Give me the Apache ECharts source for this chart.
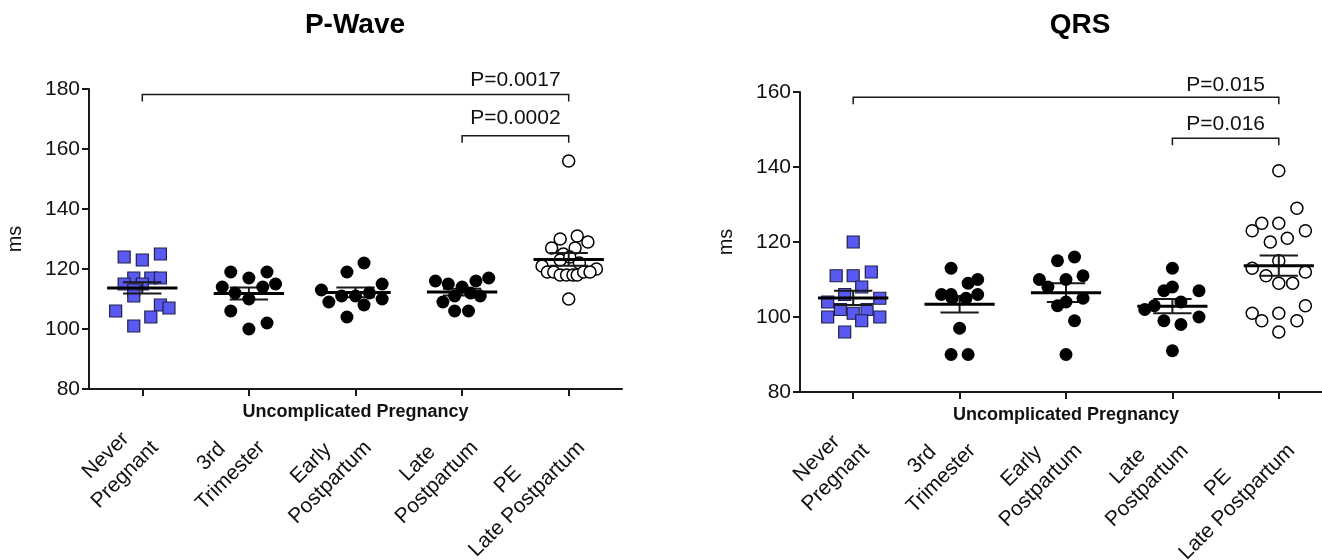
<!DOCTYPE html>
<html>
<head>
<meta charset="utf-8">
<script src="https://cdn.jsdelivr.net/npm/echarts@6/dist/echarts.min.js"></script>
<style>
html, body { margin: 0; padding: 0; background: #fff; }
#chart { width: 1322px; height: 560px; }
</style>
</head>
<body>
<div id="chart"></div>
<script>
// categories
var groupNames = ['Never\nPregnant', '3rd\nTrimester', 'Early\nPostpartum', 'Late\nPostpartum', 'PE\nLate Postpartum'];

// P-Wave values (ms) and horizontal jitter (category units)
var pwNever = [124, 123, 125, 117, 117, 117, 115, 115, 113, 111, 108, 107, 106, 104, 101];
var pwNeverJit = [-0.17, 0, 0.17, -0.08, 0.08, 0.17, -0.17, 0, -0.08, -0.08, 0.17, 0.25, -0.25, 0.08, -0.08];
var pw3rd = [119, 119, 117, 114, 114, 115, 112, 110, 106, 102, 100];
var pw3rdJit = [-0.17, 0.17, 0, -0.25, 0.13, 0.25, -0.13, 0, -0.17, 0.17, 0];
var pwEarly = [122, 119, 113, 115, 109, 111, 111, 112, 110, 108, 104];
var pwEarlyJit = [0.08, -0.08, -0.32, 0.25, -0.25, -0.13, 0, 0.13, 0.25, 0.08, -0.08];
var pwLate = [116, 115, 114, 116, 117, 111, 112, 111, 109, 106, 106];
var pwLateJit = [-0.25, -0.13, 0, 0.13, 0.25, -0.07, 0.08, 0.17, -0.18, -0.07, 0.06];
var pwPE = [156, 131, 130, 129, 127, 125, 127, 123, 124, 122, 121, 120, 119, 119, 118, 118, 118, 118, 119, 119, 110];
var pwPEJit = [0, 0.08, -0.08, 0.18, -0.16, -0.05, 0.06, -0.08, 0.01, 0.1, -0.25, 0.26, -0.2, -0.14, -0.08, -0.02, 0.04, 0.08, 0.14, 0.2, 0];
var pwMean = [113.7, 111.8, 112.2, 112.3, 123.2];
var pwSem = [1.9, 2.0, 1.6, 1.1, 2.1];

// QRS values (ms)
var qrsNever = [120, 111, 111, 112, 108, 106, 104, 105, 102, 101, 102, 100, 100, 99, 96];
var qrsNeverJit = [0, -0.16, 0, 0.17, 0.08, -0.08, -0.24, 0.25, -0.12, 0, 0.13, -0.24, 0.25, 0.08, -0.08];
var qrs3rd = [113, 110, 109, 106, 106, 105, 105, 106, 97, 90, 90];
var qrs3rdJit = [-0.08, 0.17, 0.08, -0.17, -0.08, -0.07, 0.06, 0.17, 0, -0.08, 0.08];
var qrsEarly = [115, 116, 110, 108, 110, 111, 104, 103, 105, 99, 90];
var qrsEarlyJit = [-0.08, 0.08, -0.25, -0.17, 0, 0.16, 0, -0.08, 0.16, 0.08, 0];
var qrsLate = [113, 108, 107, 107, 102, 103, 104, 99, 98, 100, 91];
var qrsLateJit = [0, 0, -0.08, 0.25, -0.26, -0.17, 0.08, -0.08, 0.08, 0.25, 0];
var qrsPE = [139, 129, 125, 125, 123, 123, 120, 121, 113, 115, 112, 111, 109, 109, 103, 101, 99, 101, 99, 96];
var qrsPEJit = [0, 0.17, -0.16, 0, -0.25, 0.25, -0.08, 0.08, -0.25, 0, 0.25, -0.12, 0, 0.13, 0.25, -0.25, -0.16, 0, 0.17, 0];
var qrsMean = [105.1, 103.4, 106.5, 102.9, 113.7];
var qrsSem = [1.9, 2.2, 2.5, 1.9, 2.7];

// significance brackets
var pwBrFrom = [0, 3], pwBrTo = [4, 4], pwBrLevel = [178.2, 164.4];
var pwPText = ['P=0.0017', 'P=0.0002'], pwPLevel = [182.8, 170.3];
var qrsBrFrom = [0, 3], qrsBrTo = [4, 4], qrsBrLevel = [158.6, 147.7];
var qrsPText = ['P=0.015', 'P=0.016'], qrsPLevel = [161.9, 151.3];

var FONT = '"Liberation Sans", Arial, Helvetica, sans-serif';
var INK = '#1a1a1a';
var LABEL_SHIFT = 0.03;   // rotated labels sit a little right of their ticks

var chart = echarts.init(document.getElementById('chart'));

function pts(vals, jit, idx) {
    return vals.map(function (v, i) { return [idx + jit[i], v]; });
}

function statData(mean, sem, groups) {
    return groups.map(function (g) { return [g, mean[g], sem[g]]; });
}

// mean line and/or SEM whisker
function statRender(mode) {
    return function (params, api) {
        var x = api.value(0), m = api.value(1), s = api.value(2);
        var w = api.size([1, 0])[0];
        var c = api.coord([x, m]);
        var hi = api.coord([x, m + s]);
        var lo = api.coord([x, m - s]);
        var cap = w * 0.18, half = w * 0.33;
        var kids = [];
        if (mode !== 'mean') {
            kids.push(
                { type: 'line', shape: { x1: c[0], y1: hi[1], x2: c[0], y2: lo[1] }, style: { stroke: INK, lineWidth: 2 } },
                { type: 'line', shape: { x1: c[0] - cap, y1: hi[1], x2: c[0] + cap, y2: hi[1] }, style: { stroke: INK, lineWidth: 2 } },
                { type: 'line', shape: { x1: c[0] - cap, y1: lo[1], x2: c[0] + cap, y2: lo[1] }, style: { stroke: INK, lineWidth: 2 } }
            );
        }
        if (mode !== 'sem') {
            kids.push({ type: 'line', shape: { x1: c[0] - half, y1: c[1], x2: c[0] + half, y2: c[1] }, style: { stroke: '#000', lineWidth: 3 } });
        }
        return { type: 'group', children: kids };
    };
}

function bracketRender(texts, levels) {
    return function (params, api) {
        var a = api.coord([api.value(0), api.value(2)]);
        var b = api.coord([api.value(1), api.value(2)]);
        var t = api.coord([api.value(3), levels[params.dataIndex]]);
        return {
            type: 'group',
            children: [
                { type: 'polyline', shape: { points: [[a[0], a[1] + 7], [a[0], a[1]], [b[0], b[1]], [b[0], b[1] + 7]] },
                  style: { stroke: INK, lineWidth: 1.5, fill: null } },
                { type: 'text', x: t[0], y: t[1],
                  style: { text: texts[params.dataIndex], fill: '#111', font: '21px ' + FONT, textAlign: 'center', textVerticalAlign: 'middle' } }
            ]
        };
    };
}

function bracketData(from, to, level) {
    return from.map(function (f, i) { return [f, to[i], level[i], 3.5]; });
}

function labelFmt(v) {
    var name = groupNames[Math.round(v)] || '';
    return name.split('\n').map(function (l) { return '{c|' + l + '}'; }).join('\n');
}

function catAxis(gi) {
    return {
        gridIndex: gi, type: 'category', data: groupNames, boundaryGap: true,
        axisLine: { show: true, onZero: false, lineStyle: { color: INK, width: 2 } },
        axisTick: { show: true, alignWithLabel: true, interval: 0, length: 7, lineStyle: { color: INK, width: 2 } },
        axisLabel: { show: false, interval: 0 },
        name: 'Uncomplicated Pregnancy', nameLocation: 'middle', nameGap: 14, nameMoveOverlap: false,
        nameTextStyle: { fontFamily: FONT, fontWeight: 'bold', fontSize: 18, color: '#111' },
        splitLine: { show: false }
    };
}

function valAxisX(gi) {
    return { gridIndex: gi, type: 'value', min: -0.5, max: 4.5, show: false, splitLine: { show: false } };
}

// value axis used only to carry the rotated group labels
function labelAxisX(gi) {
    return {
        gridIndex: gi, type: 'value', position: 'bottom', min: -0.5 - LABEL_SHIFT, max: 4.5 - LABEL_SHIFT,
        axisLine: { show: false, onZero: false }, axisTick: { show: false }, splitLine: { show: false },
        axisLabel: {
            rotate: 45, margin: 46, customValues: [0, 1, 2, 3, 4], formatter: labelFmt,
            rich: { c: { align: 'center', fontSize: 21, lineHeight: 27, fontFamily: FONT, color: '#111' } }
        }
    };
}

function valAxisY(gi, max) {
    return {
        gridIndex: gi, type: 'value', min: 80, max: max, interval: 20,
        axisLine: { show: true, onZero: false, lineStyle: { color: INK, width: 2 } },
        axisTick: { show: true, length: 7, lineStyle: { color: INK, width: 2 } },
        axisLabel: { margin: 9, fontSize: 21, fontFamily: FONT, color: '#111' },
        splitLine: { show: false },
        name: 'ms', nameLocation: 'middle', nameGap: 64, nameRotate: 90, nameMoveOverlap: false,
        nameTextStyle: { fontSize: 20, fontFamily: FONT, color: '#111' }
    };
}

function panelSeries(xi, yi, never, neverJ, g3, g3J, early, earlyJ, late, lateJ, pe, peJ, mean, sem, brF, brT, brL, pTxt, pLvl) {
    var filled = pts(g3, g3J, 1).concat(pts(early, earlyJ, 2), pts(late, lateJ, 3));
    return [
        { type: 'custom', xAxisIndex: xi, yAxisIndex: yi, z: 1, renderItem: statRender('sem'),
          data: statData(mean, sem, [1, 2, 3]) },
        { type: 'scatter', xAxisIndex: xi, yAxisIndex: yi, z: 2, symbol: 'rect', symbolSize: 12,
          itemStyle: { color: '#5a5af2', borderColor: '#20204a', borderWidth: 1.2, opacity: 1 },
          data: pts(never, neverJ, 0) },
        { type: 'scatter', xAxisIndex: xi, yAxisIndex: yi, z: 2, symbol: 'circle', symbolSize: 13,
          itemStyle: { color: '#000', opacity: 1 }, data: filled },
        { type: 'scatter', xAxisIndex: xi, yAxisIndex: yi, z: 2, symbol: 'circle', symbolSize: 12,
          itemStyle: { color: '#fff', borderColor: '#000', borderWidth: 1.5, opacity: 1 },
          data: pts(pe, peJ, 4) },
        { type: 'custom', xAxisIndex: xi, yAxisIndex: yi, z: 3, renderItem: statRender('both'),
          data: statData(mean, sem, [0, 4]) },
        { type: 'custom', xAxisIndex: xi, yAxisIndex: yi, z: 3, renderItem: statRender('mean'),
          data: statData(mean, sem, [1, 2, 3]) },
        { type: 'custom', xAxisIndex: xi, yAxisIndex: yi, z: 3, renderItem: bracketRender(pTxt, pLvl),
          data: bracketData(brF, brT, brL) }
    ];
}

var option = {
    animation: false,
    backgroundColor: '#fff',
    title: [
        { text: 'P-Wave', left: 350, top: 6, textAlign: 'center',
          textStyle: { fontFamily: FONT, fontWeight: 'bold', fontSize: 28, color: '#000' } },
        { text: 'QRS', left: 1075, top: 6, textAlign: 'center',
          textStyle: { fontFamily: FONT, fontWeight: 'bold', fontSize: 28, color: '#000' } }
    ],
    grid: [
        { left: 89, top: 89, width: 533, height: 300, outerBoundsMode: 'none', containLabel: false },
        { left: 800, top: 92, width: 532, height: 300, outerBoundsMode: 'none', containLabel: false }
    ],
    xAxis: [catAxis(0), valAxisX(0), labelAxisX(0), catAxis(1), valAxisX(1), labelAxisX(1)],
    yAxis: [valAxisY(0, 180), valAxisY(1, 160)],
    series: panelSeries(1, 0, pwNever, pwNeverJit, pw3rd, pw3rdJit, pwEarly, pwEarlyJit, pwLate, pwLateJit,
                        pwPE, pwPEJit, pwMean, pwSem, pwBrFrom, pwBrTo, pwBrLevel, pwPText, pwPLevel)
        .concat(panelSeries(4, 1, qrsNever, qrsNeverJit, qrs3rd, qrs3rdJit, qrsEarly, qrsEarlyJit, qrsLate, qrsLateJit,
                            qrsPE, qrsPEJit, qrsMean, qrsSem, qrsBrFrom, qrsBrTo, qrsBrLevel, qrsPText, qrsPLevel))
};

chart.setOption(option);
</script>
</body>
</html>
